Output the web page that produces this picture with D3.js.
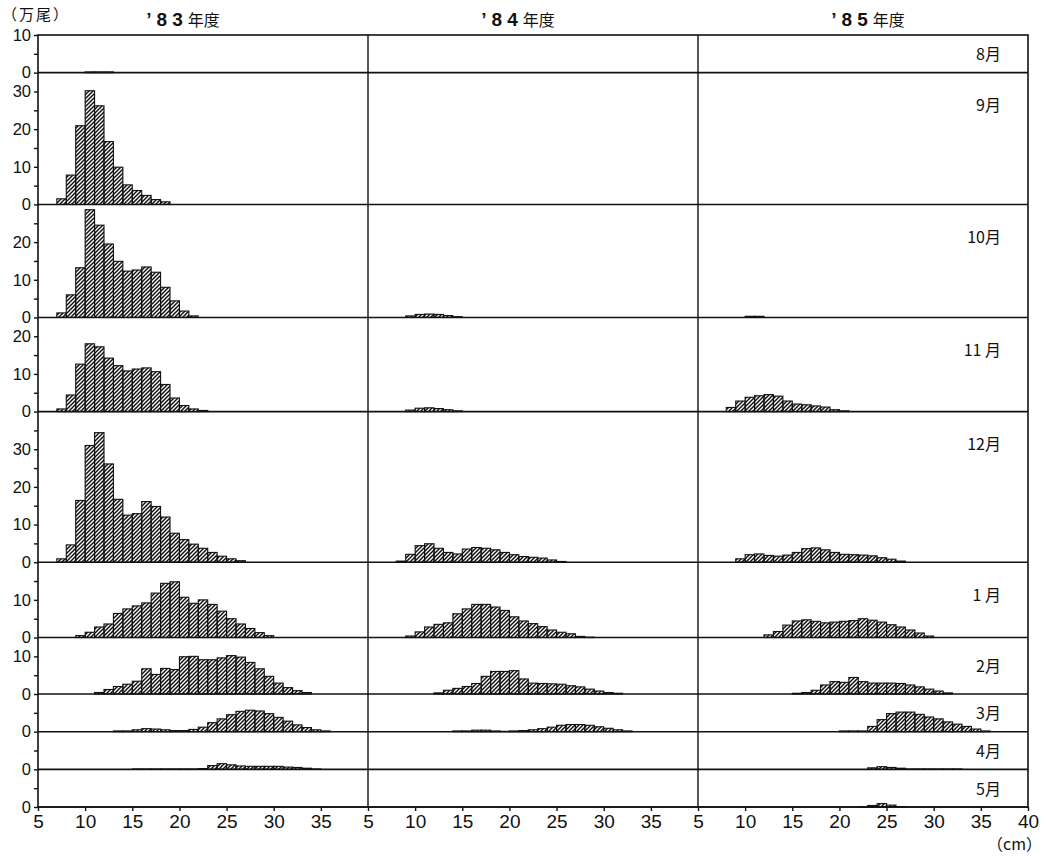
<!DOCTYPE html>
<html>
<head>
<meta charset="utf-8">
<script src="https://cdn.jsdelivr.net/npm/d3@7"></script>
<style>
  body { margin: 0; background: #fff; }
  text { font-family: "Liberation Sans", Arial, sans-serif; fill: #111; }
  .cjk { font-family: "Noto Sans CJK JP", sans-serif; }
</style>
</head>
<body>
<div id="chart"></div>
<script>
// ---- dados ----
var anos = ["’83", "’84", "’85"];
var meses = ["8月", "9月", "10月", "11 月", "12月", "1 月", "2月", "3月", "4月", "5月"];
var maxLinha = [10, 35, 30, 25, 40, 20, 15, 10, 10, 10];           // topo de cada faixa (万尾)
var rotulosY = [[0, 10], [0, 10, 20, 30], [0, 10, 20], [0, 10, 20], [0, 10, 20, 30],
                [0, 10], [0, 10], [0], [0], [0]];
var ticksX = [[5, 10, 15, 20, 25, 30, 35], [5, 10, 15, 20, 25, 30, 35], [5, 10, 15, 20, 25, 30, 35, 40]];

// cada mês: [classe inicial (cm), valores por classe de 1 cm]
var d83 = [
  [10, [0.2, 0.2, 0.2]],
  [7, [1.5, 7.8, 20.9, 30.2, 26.2, 16.7, 9.9, 5.2, 3.7, 2.4, 1.3, 0.7]],
  [7, [1.2, 6.0, 13.2, 28.6, 24.5, 19.5, 14.9, 12.3, 12.6, 13.4, 12.0, 8.0, 4.4, 1.7, 0.4]],
  [7, [0.7, 4.4, 12.6, 18.0, 17.2, 14.2, 12.2, 10.8, 11.3, 11.6, 10.6, 7.2, 3.6, 1.6, 0.7, 0.3]],
  [7, [0.9, 4.6, 16.4, 31.0, 34.4, 26.1, 16.7, 12.5, 12.9, 16.1, 14.8, 12.0, 7.7, 6.0, 4.8, 3.7, 2.6, 1.6, 0.9, 0.4]],
  [9, [0.5, 1.4, 2.8, 3.6, 6.4, 7.6, 8.4, 9.2, 11.8, 14.4, 14.8, 10.7, 9.1, 10.0, 8.8, 7.0, 5.0, 3.6, 2.4, 1.3, 0.5]],
  [11, [0.4, 1.2, 2.0, 2.6, 3.4, 6.7, 5.2, 6.8, 6.5, 9.9, 10.0, 9.1, 9.1, 9.6, 10.2, 9.8, 8.4, 6.7, 4.7, 2.9, 1.7, 0.9, 0.4]],
  [13, [0.2, 0.2, 0.5, 0.8, 0.7, 0.5, 0.3, 0.3, 0.6, 1.2, 2.4, 3.4, 4.5, 5.4, 5.7, 5.5, 4.8, 3.8, 2.8, 1.8, 1.1, 0.5, 0.2]],
  [15, [0.1, 0.1, 0.1, 0.1, 0.1, 0.1, 0.1, 0.2, 1.0, 1.5, 1.2, 0.9, 0.8, 0.8, 0.8, 0.8, 0.6, 0.5, 0.3, 0.1]],
  [5, []]
];
var d84 = [
  [5, []],
  [5, []],
  [9, [0.4, 0.8, 0.9, 0.8, 0.5, 0.2]],
  [9, [0.4, 0.9, 1.0, 0.8, 0.5, 0.2]],
  [8, [0.3, 2.1, 4.4, 4.9, 3.7, 2.6, 2.2, 3.5, 3.9, 3.7, 3.3, 2.6, 2.0, 1.5, 1.3, 1.1, 0.6, 0.2]],
  [9, [0.4, 1.5, 2.8, 3.5, 3.9, 6.3, 7.6, 8.8, 8.8, 8.1, 7.2, 5.5, 4.4, 3.7, 2.9, 2.0, 1.4, 1.0, 0.3, 0.1]],
  [12, [0.3, 1.0, 1.5, 2.0, 2.8, 4.7, 6.0, 6.0, 6.2, 4.0, 2.9, 2.8, 2.7, 2.6, 2.2, 1.9, 1.3, 0.8, 0.4, 0.2]],
  [14, [0.2, 0.2, 0.4, 0.4, 0.2, 0.1, 0.2, 0.3, 0.5, 0.8, 1.2, 1.7, 1.9, 1.9, 1.7, 1.3, 0.9, 0.5, 0.2]],
  [5, []],
  [5, []]
];
var d85 = [
  [5, []],
  [5, []],
  [10, [0.3, 0.3]],
  [8, [1.1, 2.8, 3.8, 4.2, 4.5, 4.1, 2.8, 2.0, 1.8, 1.5, 1.2, 0.5, 0.2]],
  [9, [0.9, 2.0, 2.2, 1.8, 1.6, 1.9, 2.6, 3.6, 3.8, 3.3, 2.6, 2.1, 2.0, 1.9, 1.7, 1.2, 0.8, 0.3]],
  [12, [0.7, 1.6, 3.3, 4.4, 4.7, 4.3, 3.9, 4.1, 4.3, 4.5, 5.0, 4.6, 4.1, 3.4, 2.8, 2.0, 1.2, 0.4]],
  [15, [0.2, 0.4, 1.0, 2.4, 3.3, 3.1, 4.4, 3.3, 2.9, 2.9, 2.9, 2.8, 2.4, 1.9, 1.3, 0.8, 0.3]],
  [20, [0.2, 0.2, 0.2, 1.4, 3.2, 4.8, 5.2, 5.2, 4.6, 3.9, 3.4, 2.6, 2.0, 1.4, 0.7, 0.2]],
  [23, [0.4, 0.7, 0.5, 0.3, 0.1, 0.1, 0.1, 0.1, 0.1, 0.1]],
  [22, [0.1, 0.4, 0.9, 0.5, 0.1]]
];
var dados = [d83, d84, d85];

// ---- layout ----
var largura = 1048, altura = 856;
var esq = 38, dir = 1028, topo = 35, base = 807;
var larguraCol = (dir - esq) / 3;
var tituloX = [183, 518, 868];

var svg = d3.select('#chart').append('svg')
    .attr('width', largura)
    .attr('height', altura);

// hachura diagonal
svg.append('defs').append('pattern')
    .attr('id', 'hachura')
    .attr('patternUnits', 'userSpaceOnUse')
    .attr('width', 4).attr('height', 4)
  .append('path')
    .attr('d', 'M-1,1 l2,-2 M0,4 l4,-4 M3,5 l2,-2')
    .attr('stroke', '#111')
    .attr('stroke-width', 1.5);

var escalaX = [0, 1, 2].map(function(i) {
    return d3.scaleLinear().domain([5, 40]).range([esq + i * larguraCol, esq + (i + 1) * larguraCol]);
});

// faixas verticais (uma por mês)
var unidade = d3.scaleLinear().domain([0, d3.sum(maxLinha)]).range([topo, base]);
var acumulado = 0;
var escalaY = maxLinha.map(function(m) {
    var t = unidade(acumulado);
    acumulado += m;
    var b = unidade(acumulado);
    return d3.scaleLinear().domain([0, m]).range([b, t]);
});

// barras
dados.forEach(function(ano, c) {
    var x = escalaX[c];
    ano.forEach(function(mes, r) {
        var y = escalaY[r];
        var barras = mes[1].map(function(v, k) { return { cm: mes[0] + k, v: v }; });
        svg.append('g').selectAll('rect')
            .data(barras)
            .enter()
            .append('rect')
            .attr('x', function(d) { return x(d.cm); })
            .attr('width', function(d) { return x(d.cm + 1) - x(d.cm); })
            .attr('y', function(d) { return y(d.v); })
            .attr('height', function(d) { return y(0) - y(d.v); })
            .attr('fill', 'url(#hachura)')
            .attr('stroke', '#111')
            .attr('stroke-width', 1.1);
    });
});

// linhas de separação das faixas
escalaY.forEach(function(y, r) {
    svg.append('line')
        .attr('x1', esq).attr('x2', dir)
        .attr('y1', y(0)).attr('y2', y(0))
        .attr('stroke', '#111').attr('stroke-width', 1.6);
});
svg.append('rect')
    .attr('x', esq).attr('y', topo)
    .attr('width', dir - esq).attr('height', base - topo)
    .attr('fill', 'none').attr('stroke', '#111').attr('stroke-width', 1.6);
[1, 2].forEach(function(i) {
    svg.append('line')
        .attr('x1', esq + i * larguraCol).attr('x2', esq + i * larguraCol)
        .attr('y1', topo).attr('y2', base)
        .attr('stroke', '#111').attr('stroke-width', 1.4);
});

// eixo Y de cada faixa
escalaY.forEach(function(y, r) {
    var menores = d3.range(5, maxLinha[r], 10);
    var gMenor = svg.append('g')
        .attr('transform', 'translate(' + esq + ',0)')
        .call(d3.axisLeft(y).tickValues(menores).tickSize(4).tickFormat(''));
    gMenor.select('.domain').remove();

    var g = svg.append('g')
        .attr('transform', 'translate(' + esq + ',0)')
        .call(d3.axisLeft(y).tickValues(rotulosY[r]).tickSize(4).tickPadding(3).tickFormat(d3.format('d')));
    g.select('.domain').remove();
    g.selectAll('text').style('font-size', '16.5px').attr('fill', '#111');
    g.selectAll('line').attr('stroke', '#111').attr('stroke-width', 1.4);
    gMenor.selectAll('line').attr('stroke', '#111').attr('stroke-width', 1.4);
});

// eixo X de cada coluna
escalaX.forEach(function(x, i) {
    var g = svg.append('g')
        .attr('transform', 'translate(0,' + base + ')')
        .call(d3.axisBottom(x).tickValues(ticksX[i]).tickSize(4).tickPadding(4));
    g.select('.domain').remove();
    g.selectAll('text').style('font-size', '19px').attr('fill', '#111');
    g.selectAll('line').attr('stroke', '#111').attr('stroke-width', 1.4);
});

// títulos das colunas
anos.forEach(function(a, i) {
    var t = svg.append('text')
        .attr('x', tituloX[i]).attr('y', 26)
        .attr('text-anchor', 'middle');
    t.append('tspan').text(a).style('font-size', '19px').style('font-weight', 'bold').style('letter-spacing', '5px');
    t.append('tspan').attr('class', 'cjk').text('年度').style('font-size', '16px');
});

// nomes dos meses
meses.forEach(function(m, r) {
    var y = escalaY[r];
    var h = y(0) - y(maxLinha[r]);
    svg.append('text')
        .attr('class', 'cjk')
        .attr('x', 1001)
        .attr('y', y(maxLinha[r]) + Math.min(33, h / 2 + 1))
        .attr('dy', '0.35em')
        .attr('text-anchor', 'end')
        .style('font-size', '16px')
        .text(m);
});

// unidades
svg.append('text').attr('class', 'cjk')
    .attr('x', 2).attr('y', 20)
    .style('font-size', '15px')
    .style('letter-spacing', '2px')
    .text('（万尾）');
svg.append('text').attr('class', 'cjk')
    .attr('x', 1042).attr('y', 850)
    .attr('text-anchor', 'end')
    .style('font-size', '16px')
    .text('（cm）');
</script>
</body>
</html>
